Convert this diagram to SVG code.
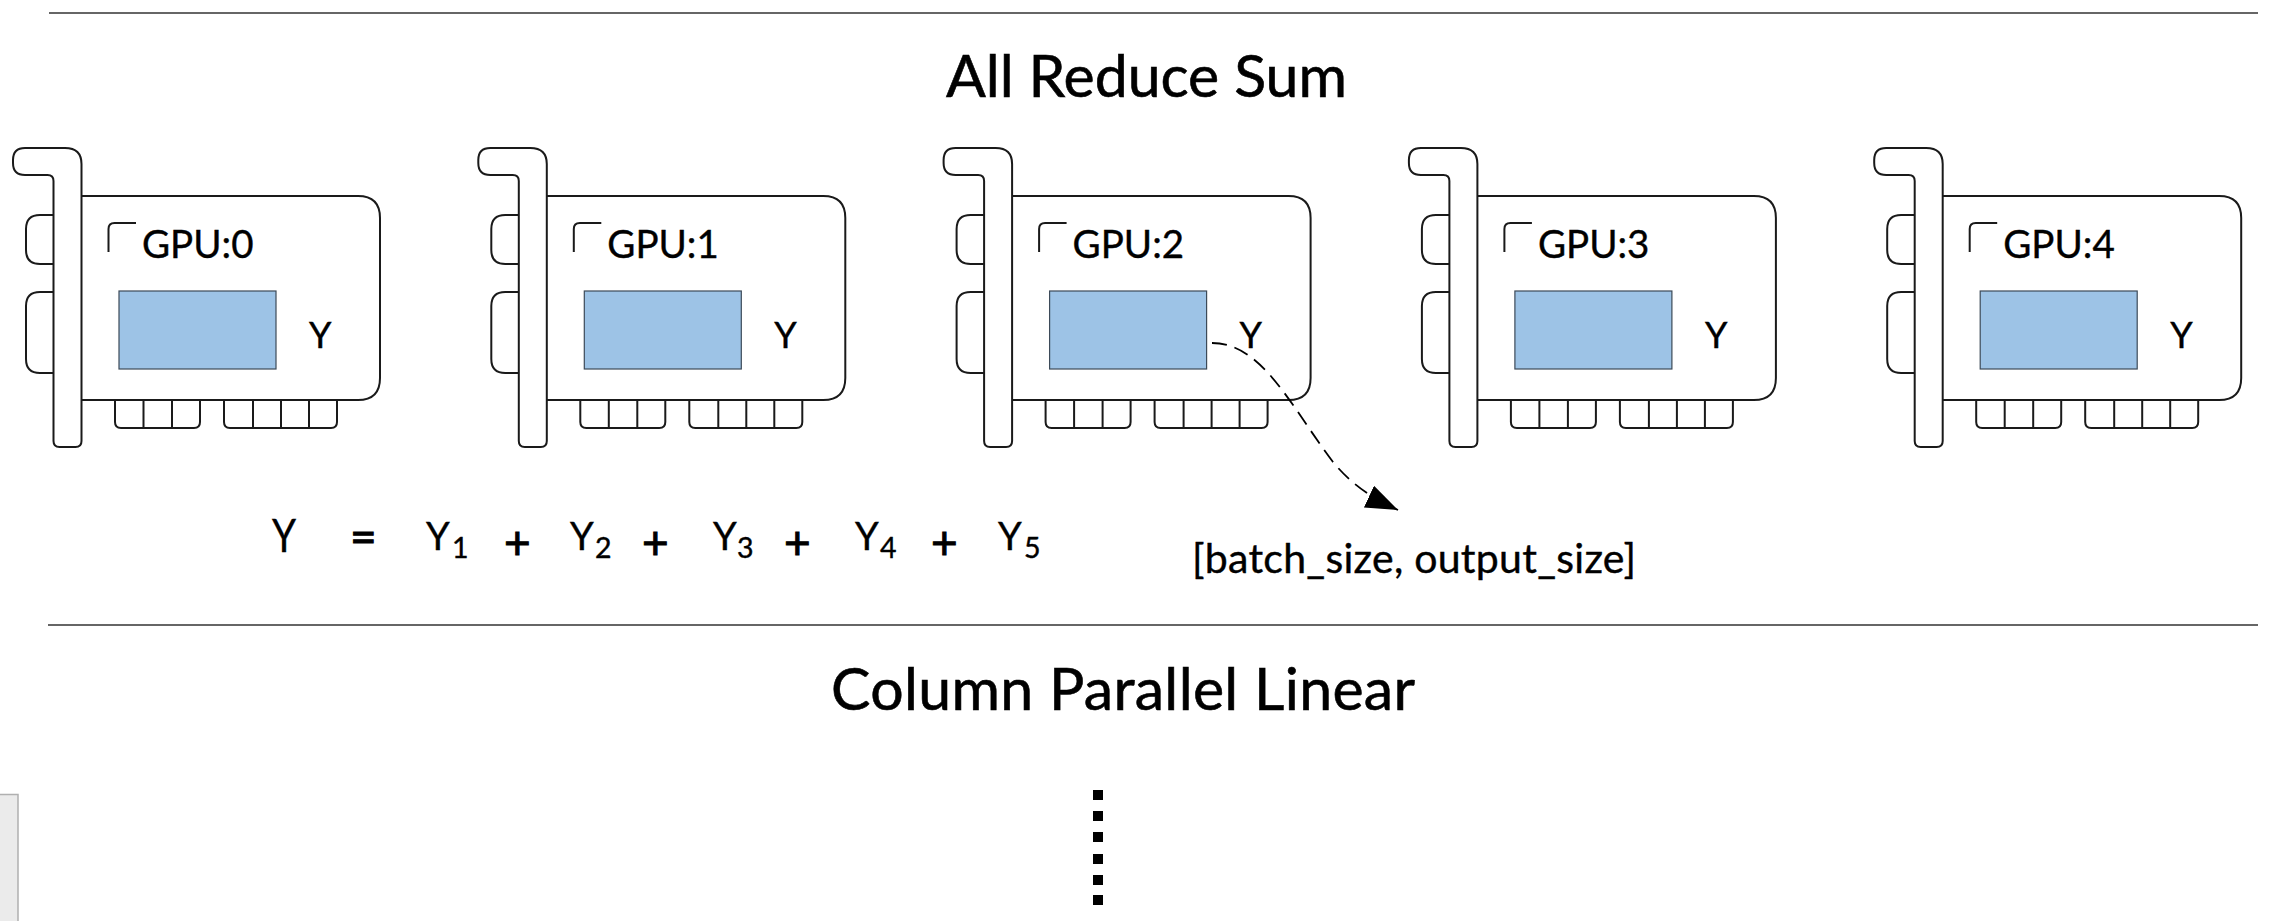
<svg xmlns="http://www.w3.org/2000/svg" width="2275" height="921" viewBox="0 0 2275 921">
  <style>
    text { font-family: "Lato", "Carlito", "Liberation Sans", sans-serif; fill: #000; stroke: #000; stroke-width: .4; }
    .title { font-size: 59px; stroke-width: .6; }
    .gpu { font-size: 38.500px; }
    .y { font-size: 36px; }
    .dim { font-size: 41px; }
    .outline { fill: none; stroke: #1a1a1a; stroke-width: 2; }
    .tensor { fill: #9dc3e6; stroke: #3c4a58; stroke-width: 1.2; }
    .rule { stroke: #333; stroke-width: 1.3; }
    .flow { fill: none; stroke: #000; stroke-width: 1.8; stroke-dasharray: 15 8; }
    .bigY { font-size: 47px; }
    .term { font-size: 38px; }
    .sub { font-size: 28.500px; }
    .op { font-size: 46px; stroke-width: 1; }
  </style>
  <defs>
    <marker id="arrow" markerUnits="userSpaceOnUse" markerWidth="36" markerHeight="28" refX="32" refY="12" orient="auto">
      <path d="M0 0L32 12L0 24Z" fill="#000"/>
    </marker>
    <!-- Graphics card outline shared by all five GPUs -->
    <g id="card">
      <path class="outline" d="M53.5 441V181Q53.5 175 47.5 175H25Q13 175 13 163V160Q13 148 25 148H65Q81.5 148 81.5 164V441Q81.5 447 75.5 447H59.5Q53.5 447 53.5 441Z"/>
      <path class="outline" d="M81.5 196H358Q380 196 380 218V378Q380 400 358 400H81.5"/>
      <path class="outline" d="M53.5 215H40Q26 215 26 229V250Q26 264 40 264H53.5M53.5 292H40Q26 292 26 306V359Q26 373 40 373H53.5"/>
      <path class="outline" d="M115 400V422Q115 428 121 428H194Q200 428 200 422V400M143.500 400V428M172 400V428"/>
      <path class="outline" d="M224 400V422Q224 428 230 428H331Q337 428 337 422V400M253 400V428M281 400V428M309 400V428"/>
      <path class="outline" d="M108.500 252V229Q108.500 223 114.500 223H136" stroke-width="1.500"/>
      <rect class="tensor" x="119" y="291" width="157" height="78"/>
    </g>
  </defs>

  <g id="rules">
    <line class="rule" x1="49" y1="13" x2="2258" y2="13"/>
    <line class="rule" x1="48" y1="625" x2="2258" y2="625"/>
  </g>

  <text id="title-reduce" class="title" x="946" y="97" textLength="401">All Reduce Sum</text>
  <text id="title-linear" class="title" x="831" y="710" textLength="584">Column Parallel Linear</text>

  <g id="gpu0"><use href="#card"/><text class="gpu" x="142" y="258">GPU:0</text><text class="y" x="309" y="348">Y</text></g>
  <g id="gpu1" transform="translate(465.300 0)"><use href="#card"/><text class="gpu" x="142" y="258">GPU:1</text><text class="y" x="309" y="348">Y</text></g>
  <g id="gpu2" transform="translate(930.600 0)"><use href="#card"/><text class="gpu" x="142" y="258">GPU:2</text><text class="y" x="309" y="348">Y</text></g>
  <g id="gpu3" transform="translate(1395.900 0)"><use href="#card"/><text class="gpu" x="142" y="258">GPU:3</text><text class="y" x="309" y="348">Y</text></g>
  <g id="gpu4" transform="translate(1861.200 0)"><use href="#card"/><text class="gpu" x="142" y="258">GPU:4</text><text class="y" x="309" y="348">Y</text></g>

  <g id="connectors">
    <path class="flow" marker-end="url(#arrow)" d="M1212 343C1262 343 1290 405 1333 462C1352 485 1372 498 1398 510"/>
  </g>

  <text id="shape-label" class="dim" x="1192" y="573" textLength="444">[batch_size, output_size]</text>

  <!-- Sum of the per-device outputs -->
  <g id="formula">
    <text class="bigY" transform="translate(272 552) scale(.82 1)">Y</text>
    <text class="op" x="350" y="553">=</text>
    <text class="term" x="426" y="550">Y</text>
    <text class="sub" x="452" y="558">1</text>
    <text class="op" x="504" y="559">+</text>
    <text class="term" x="570" y="550">Y</text>
    <text class="sub" x="595" y="558">2</text>
    <text class="op" x="642" y="559">+</text>
    <text class="term" x="713" y="550">Y</text>
    <text class="sub" x="737" y="558">3</text>
    <text class="op" x="784" y="559">+</text>
    <text class="term" x="855" y="550">Y</text>
    <text class="sub" x="880" y="558">4</text>
    <text class="op" x="931" y="559">+</text>
    <text class="term" x="998" y="550">Y</text>
    <text class="sub" x="1024" y="558">5</text>
  </g>

  <g id="ellipsis" fill="#000">
    <rect x="1093" y="790" width="10" height="10"/>
    <rect x="1093" y="811" width="10" height="10"/>
    <rect x="1093" y="832" width="10" height="10"/>
    <rect x="1093" y="854" width="10" height="10"/>
    <rect x="1093" y="875" width="10" height="10"/>
    <rect x="1093" y="895" width="10" height="10"/>
  </g>

  <path id="side-tab" d="M0 794.500H18V921H0Z" fill="#ebebeb"/>
  <path d="M0 794.500H18V921" fill="none" stroke="#b0b0b0" stroke-width="1.500"/>
</svg>
